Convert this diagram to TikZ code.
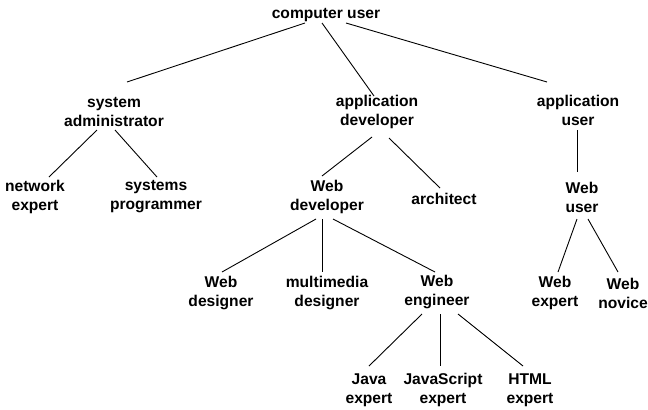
\documentclass[tikz,border=0pt]{standalone}
\usepackage{fontspec}
\setmainfont{Liberation Sans}
\begin{document}
\begin{tikzpicture}[x=1bp,y=-1bp,
  lbl/.style={font=\bfseries\fontsize{15.6bp}{19bp}\selectfont, align=center, inner sep=0pt},
  edge/.style={line width=0.9bp, black}]
\useasboundingbox (0,0) rectangle (648,409);
\node[lbl] (cu) at (326,15) {computer user};
\node[lbl] (sa) at (114,112) {system\\administrator};
\node[lbl] (ad) at (377,112) {application\\developer};
\node[lbl] (au) at (578,110) {application\\user};
\node[lbl] (ne) at (35,197) {network\\expert};
\node[lbl] (sp) at (156,197) {systems\\programmer};
\node[lbl] (wd) at (327,197) {Web\\developer};
\node[lbl] (ar) at (444,199) {architect};
\node[lbl] (wu) at (582,197) {Web\\user};
\node[lbl] (wdes) at (221,293) {Web\\designer};
\node[lbl] (mm) at (327,293) {multimedia\\designer};
\node[lbl] (we) at (437,292) {Web\\engineer};
\node[lbl] (wex) at (555,293) {Web\\expert};
\node[lbl] (wn) at (623,293) {Web\\novice};
\node[lbl] (je) at (369,390) {Java\\expert};
\node[lbl] (jse) at (443,390) {JavaScript\\expert};
\node[lbl] (he) at (530,390) {HTML\\expert};
% edges (offsets from node centres)
\draw[edge] ([shift={(-21,8)}]cu.center) -- ([shift={(13,-30)}]sa.center);
\draw[edge] ([shift={(-4,8)}]cu.center) -- ([shift={(-3,-16)}]ad.center);
\draw[edge] ([shift={(20,8)}]cu.center) -- ([shift={(-31,-28)}]au.center);
\draw[edge] ([shift={(-17,18)}]sa.center) -- ([shift={(14,-20)}]ne.center);
\draw[edge] ([shift={(1,18)}]sa.center) -- ([shift={(1,-20)}]sp.center);
\draw[edge] ([shift={(-5,25)}]ad.center) -- ([shift={(-5,-21)}]wd.center);
\draw[edge] ([shift={(12,26)}]ad.center) -- ([shift={(-4,-11)}]ar.center);
\draw[edge] ([shift={(-1,20)}]au.center) -- ([shift={(-5,-25)}]wu.center);
\draw[edge] ([shift={(-11,22)}]wd.center) -- ([shift={(1,-21)}]wdes.center);
\draw[edge] ([shift={(-5,22)}]wd.center) -- ([shift={(-5,-21)}]mm.center);
\draw[edge] ([shift={(6,22)}]wd.center) -- ([shift={(-2,-20)}]we.center);
\draw[edge] ([shift={(-5,22)}]wu.center) -- ([shift={(3,-21)}]wex.center);
\draw[edge] ([shift={(6,22)}]wu.center) -- ([shift={(-5,-21)}]wn.center);
\draw[edge] ([shift={(-15,22)}]we.center) -- ([shift={(0,-24)}]je.center);
\draw[edge] ([shift={(3,22)}]we.center) -- ([shift={(-3,-24)}]jse.center);
\draw[edge] ([shift={(21,22)}]we.center) -- ([shift={(-7,-24)}]he.center);
\end{tikzpicture}
\end{document}
